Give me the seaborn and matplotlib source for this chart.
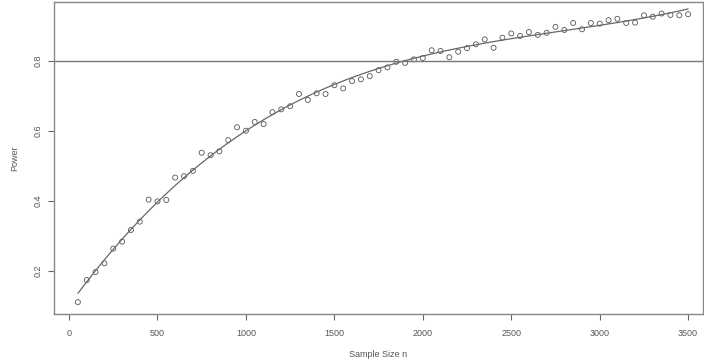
import matplotlib
matplotlib.use("Agg")
import matplotlib.pyplot as plt
import seaborn as sns
import pandas as pd

# tamanhos de amostra e poder simulado
sample_size = list(range(50, 3550, 50))
power = [0.111, 0.174, 0.197, 0.222, 0.264, 0.284, 0.317, 0.341, 0.404, 0.399,
         0.403, 0.467, 0.471, 0.486, 0.538, 0.531, 0.542, 0.574, 0.611, 0.601,
         0.626, 0.620, 0.654, 0.662, 0.671, 0.706, 0.689, 0.708, 0.706, 0.731,
         0.722, 0.743, 0.748, 0.757, 0.774, 0.782, 0.798, 0.795, 0.805, 0.809,
         0.831, 0.829, 0.811, 0.827, 0.837, 0.848, 0.862, 0.838, 0.867, 0.879,
         0.872, 0.883, 0.875, 0.881, 0.898, 0.889, 0.909, 0.891, 0.909, 0.907,
         0.917, 0.921, 0.909, 0.910, 0.931, 0.927, 0.936, 0.932, 0.931, 0.934]
target_power = 0.8
x_ticks = [0, 500, 1000, 1500, 2000, 2500, 3000, 3500]
y_ticks = [0.2, 0.4, 0.6, 0.8]

df = pd.DataFrame({"n": sample_size, "power": power})

sns.set_style("white")
plt.rcParams["font.family"] = ["Liberation Sans", "DejaVu Sans"]

fig = plt.figure(figsize=(7.04, 3.64), dpi=100)
ax = fig.add_axes([54 / 704, 1 - 314 / 364, 649 / 704, 312 / 364])

sns.scatterplot(data=df, x="n", y="power", ax=ax, marker="o", s=13,
                facecolor="none", edgecolor="#555555", linewidth=0.6)
sns.regplot(data=df, x="n", y="power", ax=ax, order=3, ci=None, scatter=False,
            line_kws={"color": "#666666", "linewidth": 0.9})
ax.axhline(target_power, color="#777777", linewidth=1.0)

ax.set_xlim(-85, 3584)
ax.set_ylim(0.077, 0.969)
ax.set_xticks(x_ticks)
ax.set_yticks(y_ticks)
ax.set_yticklabels([str(v) for v in y_ticks], rotation=90, va="center")
ax.tick_params(axis="both", direction="out", length=4.5, width=0.8,
               color="#666666", labelsize=6.5, labelcolor="#555555",
               bottom=True, left=True)
ax.tick_params(axis="x", pad=6)
ax.tick_params(axis="y", pad=4)

for side in ax.spines.values():
    side.set_color("#888888")
    side.set_linewidth(1.0)

ax.set_xlabel("Sample Size n", fontsize=6.5, color="#555555", labelpad=9)
ax.set_ylabel("Power", fontsize=6.5, color="#555555", labelpad=10)

fig.savefig("out.png", dpi=100)
